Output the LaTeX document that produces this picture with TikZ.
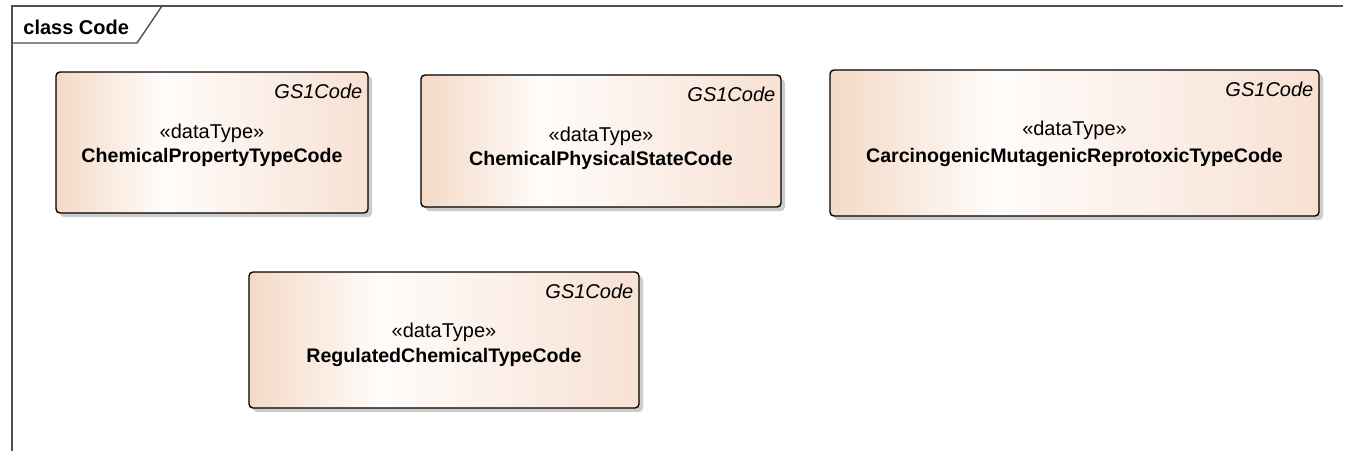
\documentclass[tikz,border=0pt]{standalone}
\usepackage{fontspec}
\setmainfont{Liberation Sans}
\usetikzlibrary{positioning,shadows}
\definecolor{peach}{HTML}{F4D9C6}
\definecolor{peachr}{HTML}{F7E1D3}
\definecolor{cream}{HTML}{FFFCFA}
\definecolor{framegray}{HTML}{505050}
\pgfdeclarehorizontalshading{dtshade}{100bp}{color(0bp)=(peach); color(25bp)=(peach);
  color(42bp)=(cream); color(75bp)=(peachr); color(100bp)=(peachr)}
\tikzset{
  dtbox/.style  ={draw=black,line width=.7pt,rounded corners=2pt,shading=dtshade,
                  drop shadow={shadow xshift=2pt,shadow yshift=-2pt,fill=black!25,opacity=.8},
                  inner sep=0pt},
  tagtext/.style={font=\fontsize{10}{12}\selectfont\itshape,inner sep=0pt,
                  text height=7.3pt,text depth=2pt},
  stereo/.style ={font=\fontsize{10}{12}\selectfont,inner sep=0pt,
                  text height=7.3pt,text depth=2pt},
  dtname/.style ={font=\fontsize{9.8}{12}\selectfont\bfseries,inner sep=0pt,
                  text height=7.3pt,text depth=2pt},
  frameline/.style={draw=framegray,line width=.7pt},
}
\begin{document}
\begin{tikzpicture}[x=0.5pt,y=-0.5pt]
  \useasboundingbox (0,0) rectangle (1348,451);
  % diagram frame
  \coordinate (fTR) at (1343,6);
  \coordinate (fTL) at (12,6);
  \coordinate (fBL) at (12,451);
  \coordinate (tabB) at (12,43);
  \coordinate (tabC) at (137,43);
  \coordinate (tabT) at (162,6);
  \draw[frameline] (fTR) -- (fTL) -- (fBL);
  \draw[frameline] (tabB) -- (tabC) -- (tabT);
  \node[font=\fontsize{10}{12}\selectfont\bfseries,anchor=west,inner sep=0pt] (ftitle)
        at (23,27) {class Code};

  % data types, first row
  \node[dtbox,minimum width=156pt,minimum height=70.5pt] (cpt) at (212,142.5) {};
  \node[tagtext,below left=6pt and 3pt of cpt.north east] (cpttag) {GS1Code};
  \node[stereo,below=26pt of cpt.north] (cptst) {«dataType»};
  \node[dtname,below=38pt of cpt.north] (cptnm) {ChemicalPropertyTypeCode};

  \node[dtbox,minimum width=180pt,minimum height=66pt] (cps) at (601,141) {};
  \node[tagtext,below left=6pt and 3pt of cps.north east] (cpstag) {GS1Code};
  \node[stereo,below=26pt of cps.north] (cpsst) {«dataType»};
  \node[dtname,below=38pt of cps.north] (cpsnm) {ChemicalPhysicalStateCode};

  \node[dtbox,minimum width=244.5pt,minimum height=73pt] (cmr) at (1074.5,143) {};
  \node[tagtext,below left=6pt and 3pt of cmr.north east] (cmrtag) {GS1Code};
  \node[stereo,below=25.5pt of cmr.north] (cmrst) {«dataType»};
  \node[dtname,below=39pt of cmr.north] (cmrnm) {CarcinogenicMutagenicReprotoxicTypeCode};

  % data type, second row
  \node[dtbox,minimum width=195pt,minimum height=68pt] (rct) at (444,340) {};
  \node[tagtext,below left=6pt and 3pt of rct.north east] (rcttag) {GS1Code};
  \node[stereo,below=25.5pt of rct.north] (rctst) {«dataType»};
  \node[dtname,below=38pt of rct.north] (rctnm) {RegulatedChemicalTypeCode};
\end{tikzpicture}
\end{document}
